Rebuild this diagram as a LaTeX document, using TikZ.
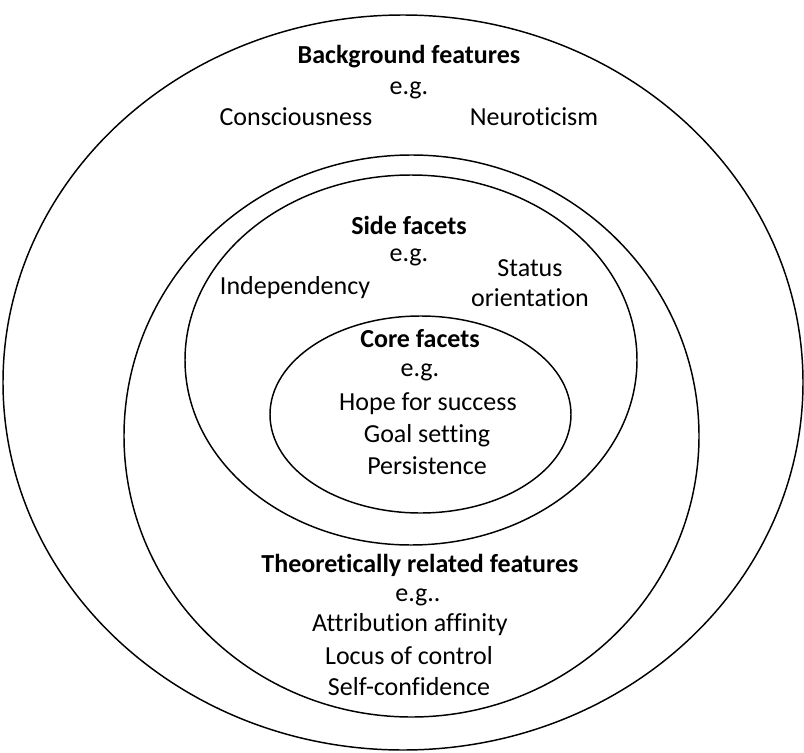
\documentclass[tikz,border=0pt]{standalone}
\usepackage{fontspec}
\setmainfont{Carlito}[Ligatures={NoCommon}]
\begin{document}
\begin{tikzpicture}[x=0.75pt,y=-0.75pt,
  ring/.style={draw=black,line width=1.1pt},
  lbl/.style={inner sep=0pt,font=\fontsize{19.5}{23}\selectfont},
  head/.style={lbl,font=\fontsize{19.5}{23}\selectfont\bfseries}]
\useasboundingbox (0,0) rectangle (804,753);

% nested rings
\draw[ring] (403,382.5) ellipse [x radius=400, y radius=367.5];
\draw[ring] (411.5,436) ellipse [x radius=287.5, y radius=281];
\draw[ring] (411,360) ellipse [x radius=226, y radius=185];
\draw[ring] (420.5,414.5) ellipse [x radius=150.5, y radius=98.5];

% outer ring: background features
\node[head] (bgT) at (409,57) {Background features};
\node[lbl] (bgE) at (409,90) {e.g.};
\node[lbl] (bgA) at (296,117) {Consciousness};
\node[lbl] (bgB) at (534,117) {Neuroticism};

% side facets
\node[head] (sfT) at (409,225) {Side facets};
\node[lbl] (sfE) at (409,257) {e.g.};
\node[lbl] (sfA) at (295,288) {Independency};
\node[lbl,align=center] (sfB) at (530,283) {Status\\orientation};

% core facets
\node[head] (cfT) at (420,339) {Core facets};
\node[lbl] (cfE) at (420,372) {e.g.};
\node[lbl] (cfA) at (428,404) {Hope for success};
\node[lbl] (cfB) at (427,436) {Goal setting};
\node[lbl] (cfC) at (427,466) {Persistence};

% theoretically related features
\node[head] (trT) at (420,565) {Theoretically related features};
\node[lbl] (trE) at (418,597) {e.g..};
\node[lbl] (trA) at (410,625) {Attribution affinity};
\node[lbl] (trB) at (409,656) {Locus of control};
\node[lbl] (trC) at (409,687) {Self-confidence};
\end{tikzpicture}
\end{document}
